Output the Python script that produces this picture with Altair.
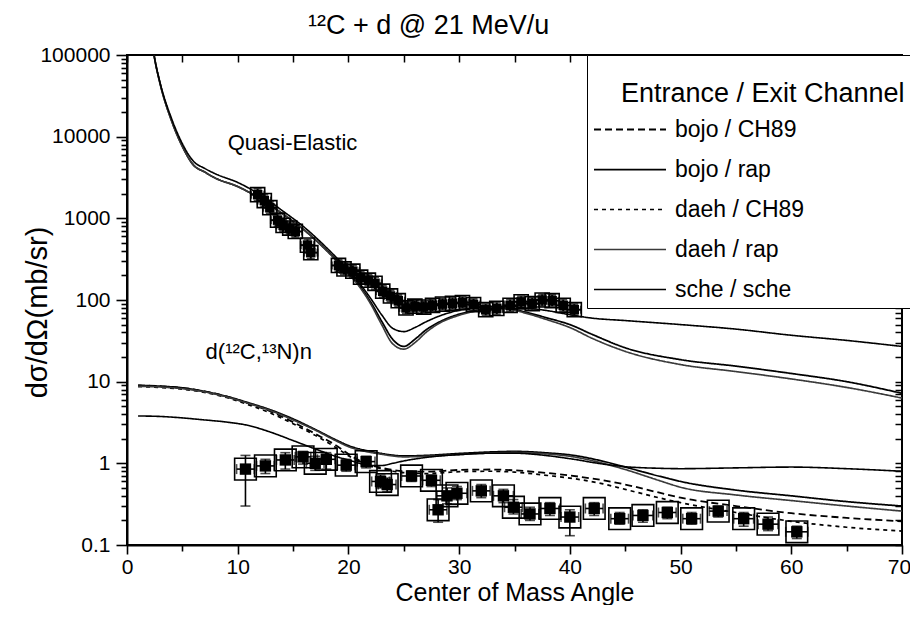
import altair as alt
import pandas as pd

FONT = "Liberation Sans"

# ---------------- legend series ----------------
SERIES = ["bojo / CH89", "bojo / rap", "daeh / CH89", "daeh / rap", "sche / sche"]
SERIES_DASH = [[7, 4], [1, 0], [4, 4], [1, 0], [1, 0]]
SERIES_WIDTH = [1.8, 1.6, 1.3, 1.0, 1.6]
SERIES_COLOR = ["black", "black", "black", "#3a3a3a", "black"]

# ---------------- quasi-elastic calculations ----------------
EL_ANGLE = [2.0, 2.5, 3.0, 4.0, 5.0, 6.0, 7.0, 8.0, 10.0, 12.0, 14.0, 16.0, 18.0, 20.0,
            21.0, 22.0, 23.0, 24.0, 25.0, 26.0, 27.0, 28.0, 30.0, 32.0, 34.0, 36.0,
            38.0, 40.0, 42.0, 45.0, 50.0, 55.0, 60.0, 65.0, 70.0]
EL_SCHE = [250000, 90000, 45000, 17000, 8200, 5000, 4100, 3500, 2750, 1950, 1250, 780,
           440, 230, 160, 105, 66, 45, 41, 46, 54, 62, 75, 82, 84, 80, 74, 66, 60, 56,
           50, 44, 37, 32, 27]
EL_BOJO = [250000, 90000, 44000, 16000, 7600, 4500, 3700, 3100, 2450, 1750, 1150, 720,
           410, 215, 150, 95, 55, 33, 27, 33, 43, 52, 67, 76, 80, 71, 60, 50, 38, 26,
           18.6, 15.5, 12.6, 10.0, 7.2]
EL_DAEH = [250000, 90000, 44000, 16000, 7600, 4500, 3700, 3100, 2450, 1750, 1150, 720,
           405, 210, 145, 90, 50, 29, 25, 30, 40, 50, 65, 75, 79, 69, 57, 46, 34, 23.5,
           16.2, 13.3, 10.8, 8.5, 6.3]

# ---------------- transfer d(12C,13N)n calculations ----------------
TR_ANGLE = [1, 3, 5, 7, 9, 11, 13, 15, 17, 19, 20, 21, 22, 23, 24, 25, 27, 30, 33, 35,
            38, 40, 43, 45, 48, 50, 55, 60, 65, 70]
TR_BOJO_CH89 = [9.0, 8.8, 8.4, 7.6, 6.6, 5.4, 4.3, 3.2, 2.3, 1.62, 1.3, 1.08, 0.95, 0.88,
                0.83, 0.80, 0.79, 0.83, 0.84, 0.82, 0.76, 0.71, 0.62, 0.55, 0.44, 0.38,
                0.30, 0.245, 0.215, 0.195]
TR_BOJO_RAP = [9.0, 8.8, 8.4, 7.6, 6.6, 5.5, 4.5, 3.5, 2.6, 1.9, 1.65, 1.5, 1.4, 1.32,
               1.26, 1.23, 1.25, 1.32, 1.38, 1.4, 1.34, 1.27, 1.06, 0.9, 0.7, 0.6, 0.47,
               0.40, 0.34, 0.30]
TR_DAEH_CH89 = [8.7, 8.5, 8.1, 7.4, 6.4, 5.2, 4.1, 3.05, 2.2, 1.52, 1.24, 1.04, 0.92,
                0.86, 0.80, 0.77, 0.75, 0.79, 0.80, 0.78, 0.71, 0.66, 0.56, 0.48, 0.38,
                0.33, 0.25, 0.195, 0.165, 0.148]
TR_DAEH_RAP = [8.8, 8.6, 8.2, 7.5, 6.5, 5.4, 4.4, 3.4, 2.55, 1.85, 1.6, 1.45, 1.36, 1.29,
               1.23, 1.2, 1.22, 1.28, 1.34, 1.36, 1.3, 1.22, 1.0, 0.84, 0.62, 0.51, 0.41,
               0.35, 0.30, 0.26]
TR_SCHE = [3.8, 3.75, 3.6, 3.4, 3.2, 2.9, 2.4, 1.9, 1.5, 1.2, 1.1, 1.0, 0.94, 0.94, 1.0,
           1.07, 1.18, 1.28, 1.33, 1.33, 1.24, 1.14, 0.98, 0.91, 0.87, 0.86, 0.88, 0.9,
           0.86, 0.80]

# ---------------- quasi-elastic data ----------------
QE_ANGLE = [11.8, 12.4, 12.9, 13.6, 14.1, 14.7, 15.2, 16.3, 16.6, 19.1, 19.6, 20.4, 21.1,
            21.8, 22.4, 23.1, 23.8, 24.5, 25.2, 26.0, 26.8, 27.6, 28.5, 29.4, 30.3, 31.3,
            32.4, 33.4, 34.6, 35.6, 36.6, 37.5, 38.4, 39.4, 40.4]
QE_XS = [1950, 1650, 1350, 950, 820, 760, 690, 470, 380, 265, 240, 225, 190, 175, 160,
         128, 112, 98, 80, 84, 82, 86, 89, 91, 93, 88, 76, 79, 86, 95, 90, 100, 98, 86, 76]
QE_LO = [1650, 1400, 1150, 800, 700, 650, 590, 400, 320, 225, 205, 190, 160, 150, 135,
         108, 95, 84, 68, 72, 70, 73, 76, 78, 80, 75, 65, 67, 73, 81, 77, 85, 84, 73, 65]
QE_HI = [2300, 1950, 1600, 1120, 960, 890, 810, 550, 450, 310, 280, 265, 225, 205, 190,
         150, 132, 115, 94, 99, 96, 101, 104, 107, 109, 103, 89, 93, 101, 111, 106, 117,
         115, 101, 89]
QE_XERR = [0.6, 0.6, 0.6, 0.6, 0.6, 0.6, 0.6, 0.6, 0.6, 0.6, 0.6, 0.6, 0.6, 0.6, 0.6,
           0.6, 0.6, 0.6, 0.6, 0.6, 0.6, 0.6, 0.6, 0.6, 0.6, 0.6, 0.6, 0.6, 0.6, 0.6,
           0.6, 0.6, 0.6, 0.6, 0.6]

# ---------------- transfer data ----------------
TD_ANGLE = [10.7, 12.5, 14.3, 15.9, 17.0, 18.0, 19.8, 21.6, 22.9, 23.5, 25.7, 27.5, 28.1,
            28.9, 29.8, 32.0, 34.0, 34.9, 36.4, 38.2, 40.0, 42.2, 44.5, 46.6, 48.8, 51.0,
            53.4, 55.7, 57.9, 60.5]
TD_XS = [0.85, 0.93, 1.10, 1.20, 1.00, 1.12, 0.95, 1.05, 0.60, 0.55, 0.70, 0.62, 0.27,
         0.40, 0.43, 0.46, 0.40, 0.29, 0.24, 0.28, 0.22, 0.28, 0.21, 0.23, 0.25, 0.21,
         0.26, 0.21, 0.18, 0.145]
TD_LO = [0.30, 0.75, 0.85, 0.98, 0.82, 0.85, 0.80, 0.88, 0.50, 0.45, 0.60, 0.52, 0.19,
         0.32, 0.36, 0.38, 0.33, 0.24, 0.20, 0.23, 0.13, 0.23, 0.18, 0.19, 0.21, 0.18,
         0.22, 0.17, 0.15, 0.12]
TD_HI = [1.25, 1.12, 1.35, 1.40, 1.22, 1.35, 1.12, 1.22, 0.72, 0.66, 0.80, 0.72, 0.36,
         0.50, 0.52, 0.55, 0.48, 0.36, 0.29, 0.33, 0.27, 0.33, 0.25, 0.27, 0.29, 0.25,
         0.30, 0.25, 0.22, 0.17]
TD_XERR = [0.8, 0.8, 0.8, 0.7, 0.8, 0.8, 0.8, 0.8, 0.8, 0.8, 0.9, 0.8, 0.8, 0.9, 0.9,
           0.8, 0.9, 0.8, 0.8, 0.9, 0.8, 0.8, 0.8, 0.9, 0.8, 0.8, 0.8, 0.9, 0.9, 1.0]

# ---------------- annotations & ticks ----------------
ANN_TEXT = ["Quasi-Elastic", "d(\u00b9\u00b2C,\u00b9\u00b3N)n"]
ANN_X = [9.1, 7.1]
ANN_Y = [8300, 23]

X_TICKS = [0, 5, 10, 15, 20, 25, 30, 35, 40, 45, 50, 55, 60, 65, 70]
Y_DECADES = [0.1, 1, 10, 100, 1000, 10000, 100000]
Y_TICKS = [m * d for d in Y_DECADES[:-1] for m in range(1, 10)] + [Y_DECADES[-1]]

# ---------------- tables ----------------
rows = []
for name, reaction, angles, vals in [
    ("bojo / rap", "el", EL_ANGLE, EL_BOJO),
    ("daeh / rap", "el", EL_ANGLE, EL_DAEH),
    ("sche / sche", "el", EL_ANGLE, EL_SCHE),
    ("bojo / CH89", "tr", TR_ANGLE, TR_BOJO_CH89),
    ("bojo / rap", "tr", TR_ANGLE, TR_BOJO_RAP),
    ("daeh / CH89", "tr", TR_ANGLE, TR_DAEH_CH89),
    ("daeh / rap", "tr", TR_ANGLE, TR_DAEH_RAP),
    ("sche / sche", "tr", TR_ANGLE, TR_SCHE),
]:
    for a, v in zip(angles, vals):
        rows.append({"angle": a, "xs": v, "series": name, "key": name + "|" + reaction})
curves = pd.DataFrame(rows)

el_pts = pd.DataFrame({"angle": QE_ANGLE, "xs": QE_XS, "lo": QE_LO, "hi": QE_HI,
                       "xlo": [a - e for a, e in zip(QE_ANGLE, QE_XERR)],
                       "xhi": [a + e for a, e in zip(QE_ANGLE, QE_XERR)]})
tr_pts = pd.DataFrame({"angle": TD_ANGLE, "xs": TD_XS, "lo": TD_LO, "hi": TD_HI,
                       "xlo": [a - e for a, e in zip(TD_ANGLE, TD_XERR)],
                       "xhi": [a + e for a, e in zip(TD_ANGLE, TD_XERR)]})

ann = pd.DataFrame({"tx": ANN_X, "ty": ANN_Y, "text": ANN_TEXT})

XS_SCALE = alt.Scale(domain=[0, 70], nice=False, zero=False)
YS_SCALE = alt.Scale(type="log", domain=[0.1, 100000], nice=False)

DECADE_TEST = "abs(log(datum.value)/LN10 - round(log(datum.value)/LN10)) < 0.001"

X_AXIS = alt.Axis(values=X_TICKS, labelExpr="datum.value % 10 == 0 ? datum.label : ''",
                  tickSize={"condition": {"test": "datum.value % 10 == 0", "value": 9}, "value": 6},
                  tickWidth=1.6, domainWidth=2, labelFontSize=21, labelPadding=2,
                  labelOffset={"condition": {"test": "datum.value == 70", "value": -3}, "value": 0},
                  labelFlush=False, labelOverlap=False, title="Center of Mass Angle",
                  titleFontSize=25, titleY=55, titleBaseline="alphabetic")
Y_AXIS = alt.Axis(values=Y_TICKS, format="~g",
                  labelExpr=DECADE_TEST + " ? datum.label : ''",
                  tickSize={"condition": {"test": DECADE_TEST, "value": 11}, "value": 6},
                  tickWidth=1.6, domainWidth=2, labelFontSize=21, labelPadding=6,
                  labelOverlap=False, labelFlush=False, title="d\u03c3/d\u03a9(mb/sr)",
                  titleFontSize=29, titleX=-75, titleY=257)
X_TOP = alt.Axis(orient="top", values=X_TICKS, labels=False, tickSize=7, tickWidth=1.5,
                 domain=False, offset=-7, title=None)
Y_RIGHT = alt.Axis(orient="right", values=Y_TICKS, labels=False, tickSize=7, tickWidth=1.5,
                   domain=False, offset=-7, title=None)

LEG = alt.Legend(title=["", "\u200b\u00a0\u00a0\u00a0\u2009Entrance / Exit Channel"],
                 orient="none", legendX=460, legendY=0, fillColor="white",
                 strokeColor="black", padding=6, titleFontSize=27, titleFont=FONT,
                 titleFontWeight="normal", titleColor="black", titleLimit=600,
                 titleLineHeight=20, titlePadding=10, labelFontSize=23, labelFont=FONT,
                 labelColor="black", labelLimit=400, labelOffset=8, symbolType="stroke",
                 symbolSize=5184, clipHeight=23, rowPadding=16)

lines = alt.Chart(curves).mark_line(clip=True, interpolate="monotone").encode(
    x=alt.X("angle:Q", scale=XS_SCALE, axis=X_AXIS),
    y=alt.Y("xs:Q", scale=YS_SCALE, axis=Y_AXIS),
    strokeDash=alt.StrokeDash("series:N", scale=alt.Scale(domain=SERIES, range=SERIES_DASH), legend=LEG),
    strokeWidth=alt.StrokeWidth("series:N", scale=alt.Scale(domain=SERIES, range=SERIES_WIDTH), legend=LEG),
    color=alt.Color("series:N", scale=alt.Scale(domain=SERIES, range=SERIES_COLOR), legend=LEG),
    detail="key:N",
)


def point_layers(df, box, dot, cap, thick):
    base = alt.Chart(df)
    xq = alt.X("angle:Q", scale=XS_SCALE, axis=None)
    yq = alt.Y("xs:Q", scale=YS_SCALE, axis=None)
    ybar = base.mark_errorbar(ticks=True, size=cap, thickness=thick, color="black", clip=True).encode(
        x=xq, y=alt.Y("lo:Q", scale=YS_SCALE, axis=None), y2="hi:Q")
    xbar = base.mark_errorbar(ticks=True, size=cap, thickness=thick, color="black", clip=True).encode(
        y=yq, x=alt.X("xlo:Q", scale=XS_SCALE, axis=None), x2="xhi:Q")
    opens = base.mark_point(shape="square", filled=False, size=box, strokeWidth=1.6,
                            color="black", opacity=1, clip=True).encode(x=xq, y=yq)
    fills = base.mark_point(shape="square", filled=True, size=dot, color="black",
                            opacity=1, clip=True).encode(x=xq, y=yq)
    return [ybar, xbar, opens, fills]


texts = alt.Chart(ann).mark_text(align="left", baseline="middle", fontSize=22, font=FONT,
                                 color="black").encode(
    x=alt.X("tx:Q", scale=XS_SCALE, axis=X_TOP),
    y=alt.Y("ty:Q", scale=YS_SCALE, axis=Y_RIGHT),
    text="text:N",
)

chart = alt.layer(
    lines, *point_layers(el_pts, 200, 90, 8, 2.0), *point_layers(tr_pts, 470, 130, 10, 1.6), texts
).resolve_scale(x="shared", y="shared").resolve_axis(x="independent", y="independent").properties(
    width=775, height=490,
    autosize=alt.AutoSizeParams(type="none"),
    padding={"left": 119, "top": 47, "right": 8, "bottom": 60},
    background="white",
    title=alt.TitleParams(text="\u00b9\u00b2C + d @ 21 MeV/u", anchor="start", frame="group",
                          dx=181, offset=4, fontSize=27, font=FONT, fontWeight="normal",
                          color="black"),
).configure_view(stroke="black", strokeWidth=2).configure_axis(
    grid=False, labelFont=FONT, titleFont=FONT, labelColor="black", titleColor="black",
    tickColor="black", domainColor="black", titleFontWeight="normal")

chart.save("out.html", embed_options={"renderer": "svg", "actions": False})
